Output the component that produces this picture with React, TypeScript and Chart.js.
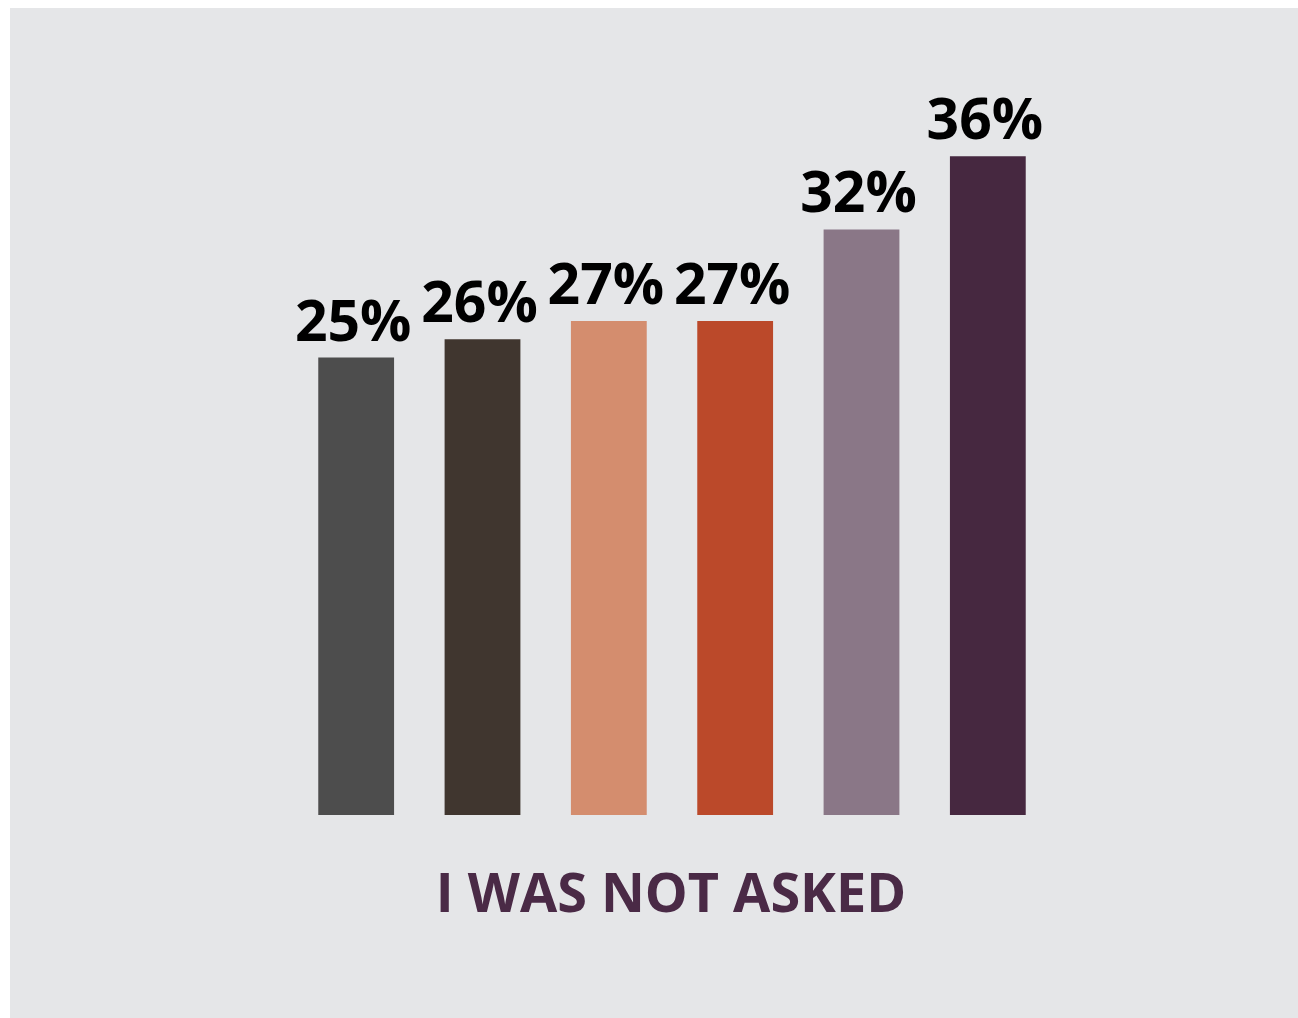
import React, { useEffect, useRef } from "react";
import { Chart, registerables } from "chart.js";

Chart.register(...registerables);

const categories = ["A", "B", "C", "D", "E", "F"];
const values = [25, 26, 27, 27, 32, 36];
const barColors = ["#4d4d4d", "#40362f", "#d48d6e", "#bb492a", "#8a7787", "#462840"];
const axisTitle = "I WAS NOT ASKED";

const FONT = "'Open Sans', 'Noto Sans', sans-serif";

const labelPlugin = {
  id: "labels",
  afterDatasetsDraw(chart: any) {
    const ctx = chart.ctx;
    const meta = chart.getDatasetMeta(0);
    ctx.save();
    ctx.fillStyle = "#000000";
    ctx.font = `bold 57px ${FONT}`;
    ctx.textAlign = "center";
    ctx.textBaseline = "alphabetic";
    meta.data.forEach((bar: any, i: number) => {
      ctx.fillText(values[i] + "%", bar.x - 3, bar.y - 17);
    });
    const area = chart.chartArea;
    ctx.fillStyle = "#4a2a46";
    ctx.font = `bold 54px ${FONT}`;
    ctx.fillText(axisTitle, (area.left + area.right) / 2 - 1, area.bottom + 97);
    ctx.restore();
  },
};

export default function App() {
  const ref = useRef<HTMLCanvasElement>(null);
  useEffect(() => {
    if (!ref.current) return;
    const chart = new Chart(ref.current, {
      type: "bar",
      data: {
        labels: categories,
        datasets: [
          {
            data: values,
            backgroundColor: barColors,
            barPercentage: 0.6,
            categoryPercentage: 1,
          },
        ],
      },
      options: {
        animation: false,
        responsive: false,
        maintainAspectRatio: false,
        layout: { padding: { left: 283, right: 247, top: 75, bottom: 203 } },
        plugins: { legend: { display: false }, tooltip: { enabled: false } },
        scales: {
          x: { display: false },
          y: { display: false, min: 0, max: 40 },
        },
      },
      plugins: [labelPlugin],
    });
    return () => chart.destroy();
  }, []);
  return (
    <div
      style={{
        position: "fixed",
        left: 10,
        top: 8,
        width: 1288,
        height: 1010,
        background: "#e5e6e8",
      }}
    >
      <canvas ref={ref} width={1288} height={1010} style={{ display: "block" }} />
    </div>
  );
}
